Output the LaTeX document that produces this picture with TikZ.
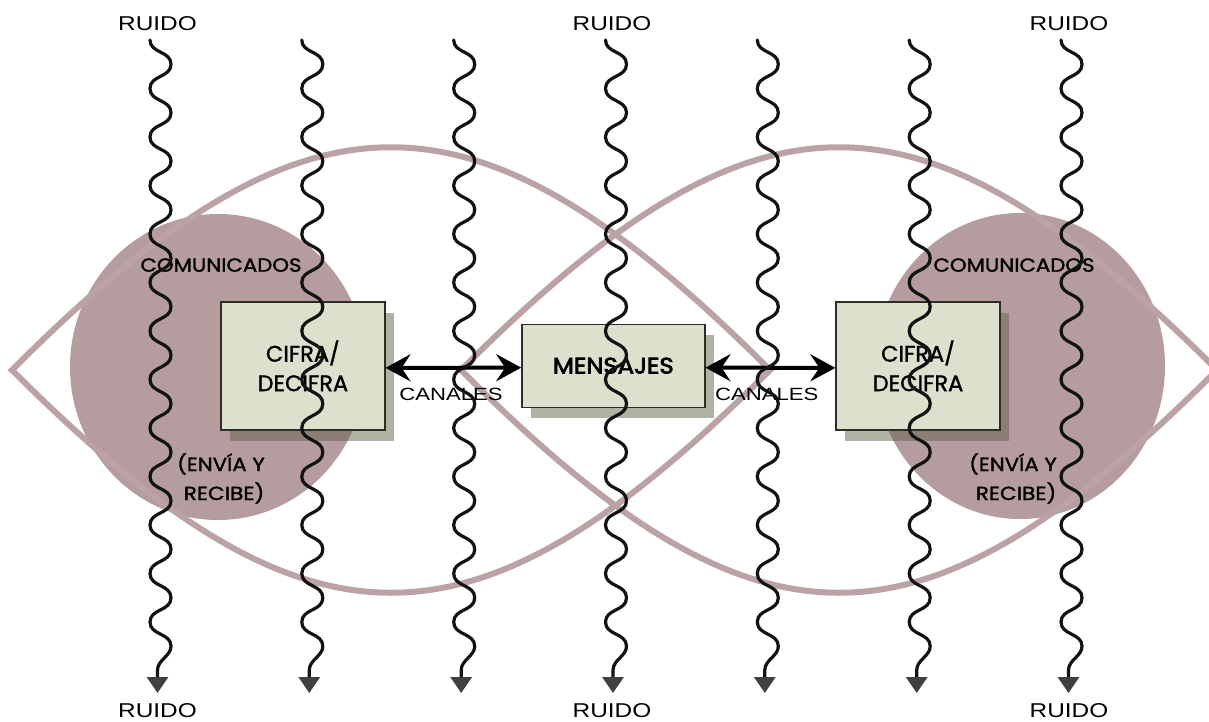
\documentclass[tikz,border=0pt]{standalone}
\usepackage{fontspec}
\setmainfont{Liberation Sans}
\newfontfamily\gothic{Poppins}[FakeBold=1.4]
\newfontfamily\gothicb{Poppins}[FakeBold=3]
\usetikzlibrary{arrows.meta,calc,shadows}
\definecolor{eyec}{RGB}{187,163,165}
\definecolor{irisc}{RGB}{180,156,159}
\definecolor{boxc}{RGB}{221,224,205}
\definecolor{boxline}{RGB}{45,45,40}
\definecolor{shadowc}{RGB}{100,100,75}
\definecolor{wavec}{RGB}{18,18,18}
\definecolor{tipc}{RGB}{64,64,64}
\newcommand{\hsc}[2]{\scalebox{#1}[1]{#2}}
\begin{document}
\begin{tikzpicture}[x=1pt,y=-1pt,
  eye/.style={draw=eyec, line width=6pt, line join=miter},
  iris/.style={fill=irisc},
  boxf/.style={draw=boxline, line width=1.3pt, fill=boxc, inner sep=0pt, align=center,
    drop shadow={shadow xshift=9pt, shadow yshift=-11pt, fill=shadowc, opacity=0.5}},
  noise/.style={draw=wavec, line width=3.2pt, line cap=round,
    -{Triangle[length=16pt,width=21pt,color=tipc,fill=tipc]}},
  chan/.style={line width=4pt,
    {Stealth[length=25pt,width=27pt,inset=9pt]}-{Stealth[length=25pt,width=27pt,inset=9pt]}},
  ruido/.style={font=\fontsize{20}{24}\selectfont, inner sep=0pt, anchor=base},
  canal/.style={font=\fontsize{17.7}{21}\selectfont, inner sep=0pt, anchor=base},
  comm/.style={font=\gothic\fontsize{19}{23}\selectfont, inner sep=0pt, anchor=base}
]
\useasboundingbox (0,0) rectangle (1209,721);
\fill[white] (0,0) rectangle (1209,721);

% irises
\coordinate (cL) at (218,367);
\coordinate (cR) at (1020,366);
\fill[iris] (cL) ellipse [x radius=148pt, y radius=153pt];
\fill[iris] (cR) ellipse [x radius=145pt, y radius=153pt];

% eye outlines
\coordinate (eL1) at (12,370);
\coordinate (eL2) at (770,370);
\coordinate (eR1) at (461,370);
\coordinate (eR2) at (1217,370);
\draw[eye] (eL1) .. controls +(297,-297) and +(-297,-297) .. (eL2)
               .. controls +(-297,297) and +(297,297) .. cycle;
\draw[eye] (eR1) .. controls +(297,-297) and +(-297,-297) .. (eR2)
               .. controls +(-297,297) and +(297,297) .. cycle;

% boxes
\node[boxf, minimum width=164pt, minimum height=128pt,
  font=\gothic\fontsize{22.5}{29.5}\selectfont] (lbox) at (302.85,365.85) {CIFRA/\\DECIFRA};
\node[boxf, minimum width=164pt, minimum height=128pt,
  font=\gothic\fontsize{22.5}{29.5}\selectfont] (rbox) at (918,365.85) {CIFRA/\\DECIFRA};
\node[boxf, minimum width=183pt, minimum height=83pt,
  font=\gothicb\fontsize{22.5}{27}\selectfont] (mbox) at (613.35,365.65) {\hsc{1.08}{MENSAJES}};

% channels
\draw[chan] ([yshift=-2pt]lbox.east) -- ([yshift=-2pt]mbox.west);
\draw[chan] ([yshift=-2pt]mbox.east) -- ([yshift=-2pt]rbox.west);
\node[canal] (can1) at (451,400) {\hsc{1.25}{CANALES}};
\node[canal] (can2) at (766.7,400) {\hsc{1.25}{CANALES}};

% eye texts
\node[comm] (com1) at (221,271.7) {\hsc{1.12}{COMUNICADOS}};
\node[comm] (com2) at (1014,271.7) {\hsc{1.12}{COMUNICADOS}};
\node[comm] (env1) at (221,471) {\hsc{1.12}{(ENVÍA Y}};
\node[comm] (rec1) at (224,500) {\hsc{1.14}{RECIBE)}};
\node[comm] (env2) at (1013,471) {\hsc{1.12}{(ENVÍA Y}};
\node[comm] (rec2) at (1016,500) {\hsc{1.14}{RECIBE)}};

% noise labels
\node[ruido] (rt1) at (157.5,30.9) {\hsc{1.22}{RUIDO}};
\node[ruido] (rt2) at (612,30.9) {\hsc{1.22}{RUIDO}};
\node[ruido] (rt3) at (1069,30.9) {\hsc{1.22}{RUIDO}};
\node[ruido] (rb1) at (157.5,717) {\hsc{1.22}{RUIDO}};
\node[ruido] (rb2) at (612,717) {\hsc{1.22}{RUIDO}};
\node[ruido] (rb3) at (1069,717) {\hsc{1.22}{RUIDO}};

% noise lines: 12.5 waves of period 48.5, then straight down to the arrow
\foreach \i/\cx in {1/160.5, 2/312.3, 3/464.2, 4/616, 5/767.8, 6/919.7, 7/1071.5} {
  \coordinate (top\i) at (\cx-10.5,40);
  \coordinate (bot\i) at (\cx-3,693);
  \draw[noise] (top\i)
    \foreach \k [evaluate=\k as \ya using {40+48.5*\k},
                 evaluate=\k as \yb using {64.25+48.5*\k},
                 evaluate=\k as \yc using {88.5+48.5*\k}] in {0,...,11} {
       .. controls (\cx-10.5,\ya+13.5) and (\cx+10.5,\yb-13.5) .. (\cx+10.5,\yb)
       .. controls (\cx+10.5,\yb+13.5) and (\cx-10.5,\yc-13.5) .. (\cx-10.5,\yc)
    }
    .. controls (\cx-10.5,635.5) and (\cx+10.5,632.75) .. (\cx+10.5,646.25)
    .. controls (\cx+10.5,656) and (\cx-3,660) .. (\cx-3,670) -- (bot\i);
}
\end{tikzpicture}
\end{document}
